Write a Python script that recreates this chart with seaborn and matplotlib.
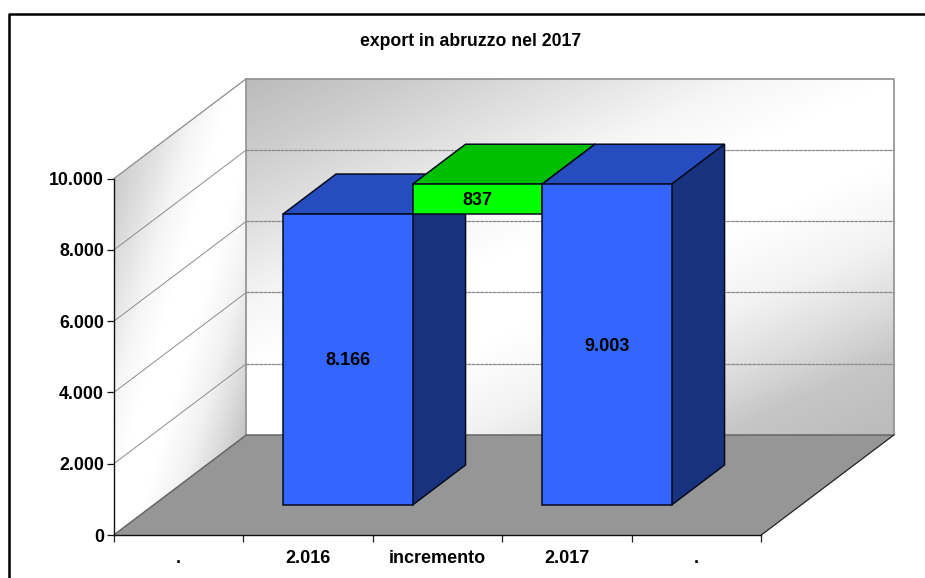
import numpy as np
import pandas as pd
import matplotlib
matplotlib.use("Agg")
import matplotlib.pyplot as plt
import matplotlib.transforms as mtransforms
from matplotlib.colors import LinearSegmentedColormap
from matplotlib.lines import Line2D
from matplotlib.patches import Polygon
import seaborn as sns

# data
slot_labels = [".", "2.016", "incremento", "2.017", "."]
bar_slots = [1, 2, 3]
bar_values = [8166, 837, 9003]
bar_bottoms = [0, 8166, 0]
value_labels = ["8.166", "837", "9.003"]
y_ticks = [0, 2000, 4000, 6000, 8000, 10000]
y_tick_labels = ["0", "2.000", "4.000", "6.000", "8.000", "10.000"]

front_colors = ["#3366FF", "#00FF00", "#3366FF"]
top_colors = ["#264DBF", "#00BF00", "#264DBF"]
side_colors = ["#17327F", "#008000", "#17327F"]

W, H = 925, 578
sns.set_theme(style="white")
plt.rcParams["font.family"] = ["Liberation Sans", "DejaVu Sans"]

fig = plt.figure(figsize=(W / 100, H / 100), dpi=100)
ax = fig.add_axes([113.8 / W, 1 - 535 / H, 647.5 / W, 356.3 / H])

# size of the 3d depth in data units
depth_x = 132.5 / (647.5 / 5)
depth_y = 100 / 356.3 * 10000
bar_front = 0.3
bar_back = 0.7
x_lo, x_hi = -0.5, 4.5
y_lo, y_hi = 0, 10000


def proj(x, y, d):
    return (x + d * depth_x, y + d * depth_y)


# ==========================
# Walls and floor
# ==========================

wall_cmap = LinearSegmentedColormap.from_list(
    "wall",
    [(0, "#bbbbbb"), (0.11, "#cccccc"), (0.25, "#e4e4e4"), (0.35, "#f6f6f6"), (0.45, "#ffffff"),
     (0.58, "#ffffff"), (0.7, "#f2f2f2"), (0.8, "#dcdcdc"), (0.88, "#c6c6c6"), (1, "#bbbbbb")],
)


def gradient_wall(corners, u_weight):
    xs = [c[0] for c in corners]
    ys = [c[1] for c in corners]
    u, v = np.meshgrid(np.linspace(0, 1, 300), np.linspace(0, 1, 300))
    img = ax.imshow(
        (u_weight * u + v) / (u_weight + 1),
        extent=(min(xs), max(xs), min(ys), max(ys)),
        origin="upper",
        aspect="auto",
        cmap=wall_cmap,
        vmin=0,
        vmax=1,
        zorder=1,
    )
    clip = Polygon(corners, transform=ax.transData, facecolor="none", edgecolor="none")
    ax.add_patch(clip)
    clip.set_clip_on(False)
    img.set_clip_box(fig.bbox)
    img.set_clip_path(clip)


gradient_wall([proj(x_lo, y_lo, 1), proj(x_hi, y_lo, 1), proj(x_hi, y_hi, 1), proj(x_lo, y_hi, 1)], 0.82)
gradient_wall([proj(x_lo, y_lo, 0), proj(x_lo, y_lo, 1), proj(x_lo, y_hi, 1), proj(x_lo, y_hi, 0)], 1.0)

floor = [proj(x_lo, 0, 0), proj(x_hi, 0, 0), proj(x_hi, 0, 1), proj(x_lo, 0, 1)]
ax.add_patch(Polygon(floor, facecolor="#969696", edgecolor="none", zorder=2, clip_on=False))

for v in y_ticks[1:-1]:
    a, b, c = proj(x_lo, v, 0), proj(x_lo, v, 1), proj(x_hi, v, 1)
    ax.plot([a[0], b[0]], [a[1], b[1]], color="#8c8c8c", lw=0.7, zorder=3, clip_on=False)
    ax.plot([b[0], c[0]], [b[1], c[1]], color="#8a8a8a", lw=0.9, ls=(0, (3, 0.4)), zorder=3, clip_on=False)

# frame of the walls
a, b, c, d = proj(x_lo, y_hi, 0), proj(x_lo, y_hi, 1), proj(x_hi, y_hi, 1), proj(x_hi, 0, 1)
ax.plot([a[0], b[0]], [a[1], b[1]], color="#8c8c8c", lw=0.9, zorder=3, clip_on=False)
ax.plot([b[0], c[0], d[0]], [b[1], c[1], d[1]], color="#8f8f8f", lw=1.2, zorder=3, clip_on=False)
e = proj(x_lo, 0, 1)
ax.plot([b[0], e[0]], [b[1], e[1]], color="#8f8f8f", lw=1.2, zorder=3, clip_on=False)
f = proj(x_lo, 0, 0)
ax.plot([f[0], e[0], d[0]], [f[1], e[1], d[1]], color="#666666", lw=1.1, zorder=3, clip_on=False)
g = proj(x_hi, 0, 0)
ax.plot([g[0], d[0]], [g[1], d[1]], color="#222222", lw=0.9, zorder=3, clip_on=False)

# ==========================
# Bars
# ==========================

slots = list(range(len(slot_labels)))
shift = mtransforms.Affine2D().translate(bar_front * depth_x, bar_front * depth_y)
bar_depth = bar_back - bar_front
edge = "#050a1e"

for i in range(len(bar_slots)):
    df = pd.DataFrame({"slot": [bar_slots[i]], "value": [bar_values[i]]})
    n_before = len(ax.patches)
    sns.barplot(
        data=df, x="slot", y="value", order=slots, bottom=bar_bottoms[i], width=1,
        color=front_colors[i], saturation=1, edgecolor=edge, linewidth=1.1, ax=ax,
    )
    bar = ax.patches[n_before]
    base_z = 5 + i * 2
    bar.set_transform(shift + ax.transData)
    bar.set_clip_on(False)
    bar.set_zorder(base_z + 1)

    x0 = bar.get_x() + bar_front * depth_x
    x1 = x0 + bar.get_width()
    y0 = bar.get_y() + bar_front * depth_y
    y1 = y0 + bar.get_height()
    ddx, ddy = bar_depth * depth_x, bar_depth * depth_y

    top = [(x0, y1), (x1, y1), (x1 + ddx, y1 + ddy), (x0 + ddx, y1 + ddy)]
    side = [(x1, y0), (x1 + ddx, y0 + ddy), (x1 + ddx, y1 + ddy), (x1, y1)]
    ax.add_patch(Polygon(top, facecolor=top_colors[i], edgecolor=edge, lw=1.1, zorder=base_z, clip_on=False))
    ax.add_patch(Polygon(side, facecolor=side_colors[i], edgecolor=edge, lw=1.1, zorder=base_z, clip_on=False))

    ax.annotate(
        value_labels[i], xy=((x0 + x1) / 2, (y0 + y1) / 2), xytext=(0, -1),
        textcoords="offset points", ha="center", va="center",
        fontsize=13, fontweight="bold", color="black", zorder=20,
    )

# ==========================
# Axes
# ==========================

ax.patch.set_visible(False)
ax.set_xlim(x_lo, x_hi)
ax.set_ylim(y_lo, y_hi)
ax.set_xlabel("")
ax.set_ylabel("")
for name in ["top", "right"]:
    ax.spines[name].set_visible(False)
for name in ["left", "bottom"]:
    ax.spines[name].set_color("#111111")
    ax.spines[name].set_linewidth(1.0)
    ax.spines[name].set_zorder(4)

ax.set_yticks(y_ticks)
ax.set_yticklabels(y_tick_labels, fontsize=12.8, fontweight="bold", color="black")
ax.tick_params(axis="y", length=5, width=0.9, color="#111111", pad=2, left=True)

ax.set_xticks(slots)
ax.set_xticklabels(slot_labels, fontsize=13, fontweight="bold", color="black")
ax.set_xticks(np.arange(x_lo, x_hi + 1), minor=True)
ax.tick_params(axis="x", which="major", length=0, pad=11)
ax.tick_params(axis="x", which="minor", length=5, width=0.9, color="#222222", bottom=True)

fig.text(471 / W, 1 - 41 / H, "export in abruzzo nel 2017", ha="center", va="center",
         fontsize=12.7, fontweight="bold", color="black")

# outer frame runs off the right and bottom of the picture
fig.add_artist(Line2D([8.5 / W, 8.5 / W, 1], [0, 1 - 13.5 / H, 1 - 13.5 / H], color="black", lw=1.8))

fig.savefig("out.png", dpi=100, facecolor="white")
